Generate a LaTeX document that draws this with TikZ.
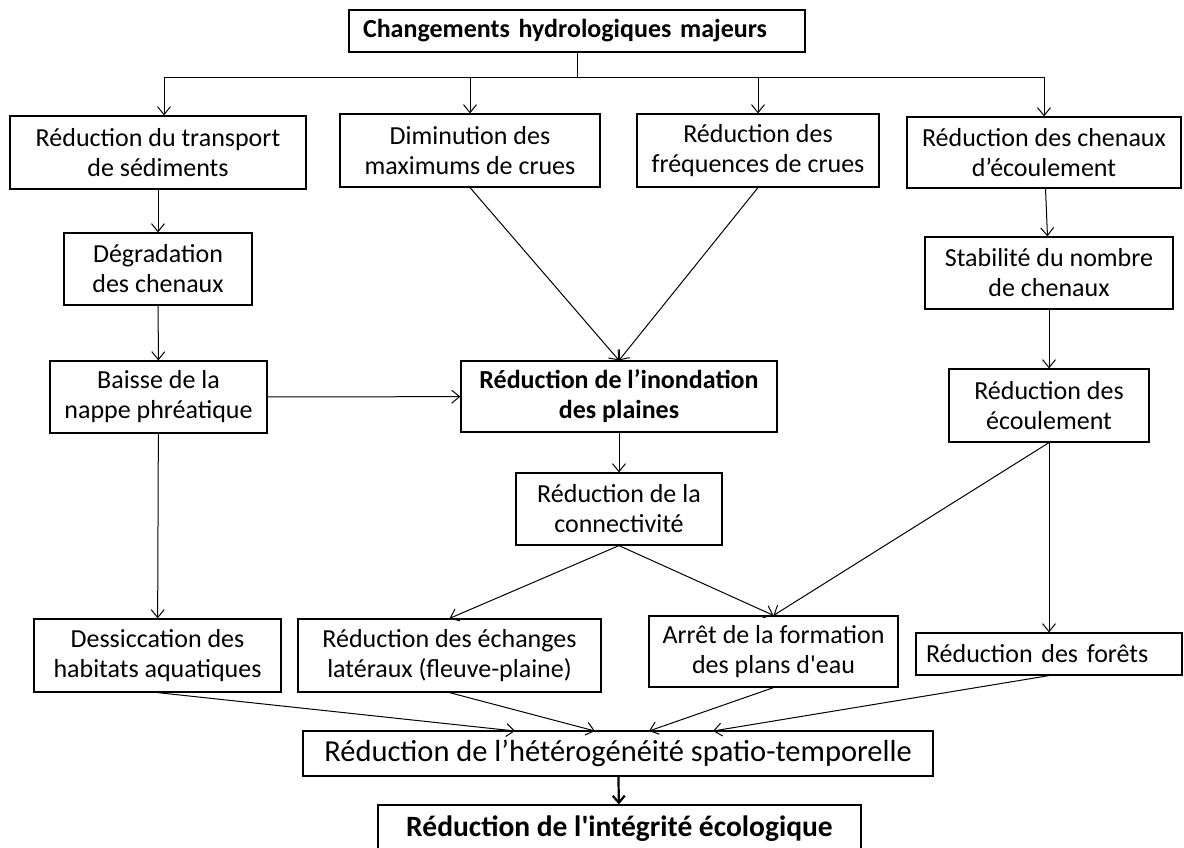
\documentclass[tikz,border=0pt]{standalone}
\usepackage{fontspec}
\setmainfont{Carlito}[Ligatures=TeXOff]
\usepackage{tikz}
\usetikzlibrary{arrows.meta,positioning}

\begin{document}
\begin{tikzpicture}[x=1pt, y=-1pt, line width=1pt,
	>={Straight Barb[length=8pt,width=13pt]},
	box/.style={draw, line width=1.2pt, inner sep=0pt, align=center,
		font=\fontsize{26}{30}\selectfont},
	boldbox/.style={box, font=\fontsize{26}{30}\selectfont\bfseries}]

	\useasboundingbox (0,0) rectangle (1184,847);
	\clip (0,0) rectangle (1184,847);

	% first rows
	\node (top) [boldbox, minimum width=456pt, minimum height=42pt, text width=428pt, align=left] at (577,31) {Changements hydrologiques majeurs};
	\node (sed) [box, minimum width=296pt, minimum height=73pt] at (158,152.5) {Réduction du transport\\de sédiments};
	\node (maxc) [box, minimum width=260pt, minimum height=73pt] at (470,150.5) {Diminution des\\maximums de crues};
	\node (freq) [box, minimum width=242pt, minimum height=73pt] at (758,150.5) {Réduction des\\fréquences de crues};
	\node (chen) [box, minimum width=274pt, minimum height=71pt] at (1044,152.5) {Réduction des chenaux\\d’écoulement};
	\node (degr) [box, minimum width=188pt, minimum height=72pt] at (158,269) {Dégradation\\des chenaux};
	\node (stab) [box, minimum width=248pt, minimum height=72pt] at (1049,273) {Stabilité du nombre\\de chenaux};
	\node (nappe) [box, minimum width=217pt, minimum height=72pt] at (158.5,397) {Baisse de la\\nappe phréatique};
	\node (inond) [boldbox, minimum width=316pt, minimum height=71pt] at (619,396.5) {Réduction de l’inondation\\des plaines};
	\node (ecoul) [box, minimum width=200pt, minimum height=73pt] at (1049,405.5) {Réduction des\\écoulement};
	\node (conn) [box, minimum width=206pt, minimum height=72pt] at (619,509) {Réduction de la\\connectivité};

	% effects
	\node (dessic) [box, minimum width=247pt, minimum height=73pt] at (157.5,655.5) {Dessiccation des\\habitats aquatiques};
	\node (echang) [box, minimum width=303pt, minimum height=73pt] at (449.5,655.5) {Réduction des échanges\\latéraux (fleuve-plaine)};
	\node (arret) [box, minimum width=249pt, minimum height=71pt] at (773.5,651.5) {Arrêt de la formation\\des plans d'eau};
	\node (foret) [box, minimum width=266pt, minimum height=42pt, text width=246pt, align=left] at (1049,654) {Réduction des forêts};
	\node (hetero) [box, minimum width=630pt, minimum height=45pt, font=\fontsize{30.5}{34}\selectfont] at (618,753.5) {Réduction de l’hétérogénéité spatio-temporelle};
	\node (integ) [boldbox, minimum width=483pt, minimum height=64pt, text depth=22pt, font=\fontsize{29.5}{33}\selectfont\bfseries] at (619.5,837) {Réduction de l'intégrité écologique};

	\coordinate (bus) at (577,77);
	\draw (top) -- (bus);
	\draw ([xshift=6pt]sed.north |- bus) -- (chen.north |- bus);
	\draw[->] ([xshift=6pt]sed.north |- bus) -- ([xshift=6pt]sed.north);
	\foreach \n in {maxc, freq, chen}
		\draw[->] (\n.north |- bus) -- (\n.north);

	\draw[->] (sed) -- (degr);
	\draw[->] (degr) -- (nappe);
	\draw[->] (nappe) -- (inond);
	\draw[->] (maxc.south) -- (inond.north);
	\draw[->] (freq.south) -- (inond.north);
	\draw[->] (chen) -- (stab);
	\draw[->] (stab) -- (ecoul);
	\draw[->] (inond) -- (conn);
	\draw[->] (nappe) -- (dessic);
	\draw[->] (conn.south) -- (echang.north);
	\draw[->] (conn.south) -- (arret.north);
	\draw[->] (ecoul.south) -- (arret.north);
	\draw[->] (ecoul.south) -- (foret.north);

	\coordinate (h1) at (515,731);
	\coordinate (h2) at (595,731);
	\coordinate (h3) at (649,731);
	\coordinate (h4) at (713,731);
	\draw[->] (dessic.south) -- (h1);
	\draw[->] (echang.south) -- (h2);
	\draw[->] (arret.south) -- (h3);
	\draw[->] (foret.south) -- (h4);
	\draw[->, line width=2.2pt, >={Straight Barb[length=7pt,width=12pt]}] (hetero) -- (integ);
\end{tikzpicture}
\end{document}
